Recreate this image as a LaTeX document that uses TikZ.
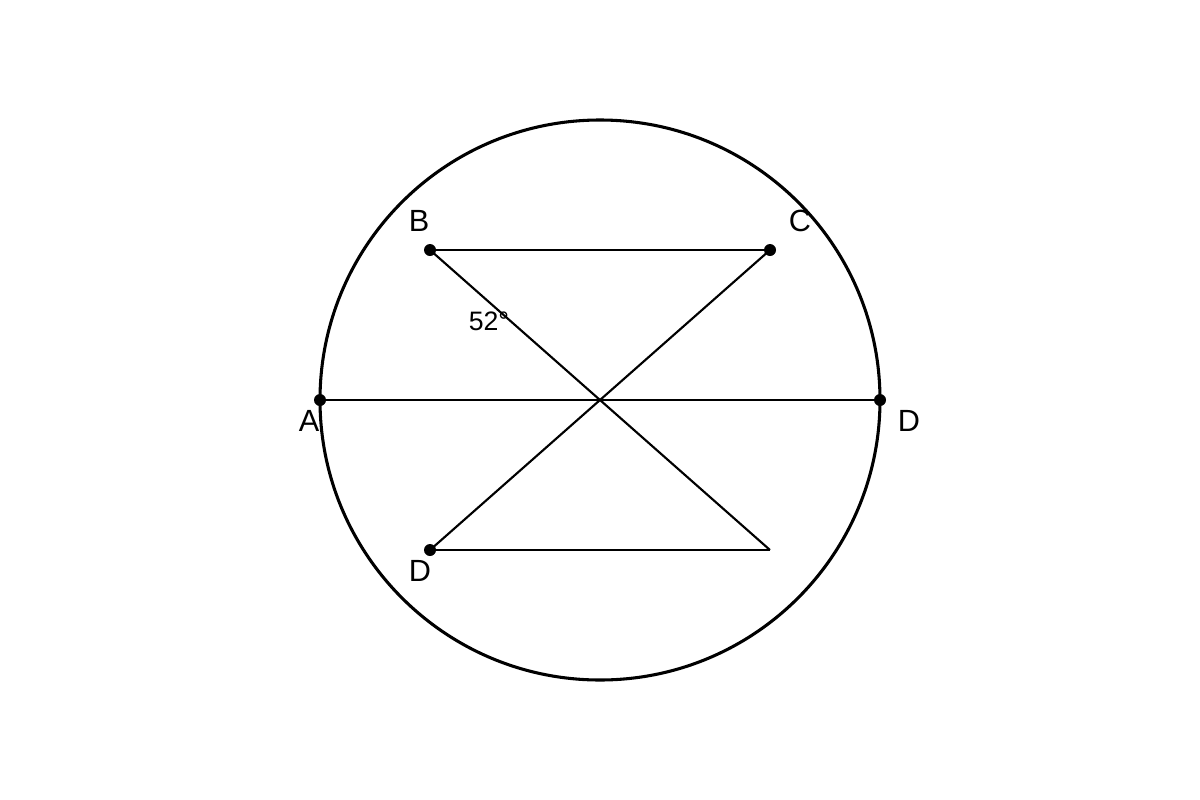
\documentclass[tikz,border=0pt]{standalone}
\usepackage{fontspec}
\setmainfont{Liberation Sans}
\begin{document}
\begin{tikzpicture}[x=0.75pt,y=-0.75pt,
  dot/.style={circle,fill=black,inner sep=0pt,minimum size=9pt},
  lbl/.style={inner sep=0pt,font=\fontsize{23}{26}\selectfont},
  anglbl/.style={inner sep=0pt,font=\fontsize{20}{24}\selectfont},
  chord/.style={line width=1.6pt}]
\useasboundingbox (0,0) rectangle (1200,800);
\node (O) at (600,400) {};
\draw[line width=2.3pt] (600,400) circle[radius=280];
\coordinate (A) at (320,400);
\coordinate (D1) at (880,400);
\coordinate (B) at (430,250);
\coordinate (C) at (770,250);
\coordinate (D2) at (430,550);
\coordinate (E) at (770,550);
\draw[chord] (A) -- (D1);
\draw[chord] (B) -- (C);
\draw[chord] (B) -- (E);
\draw[chord] (C) -- (D2);
\draw[chord] (D2) -- (E);
\foreach \p in {A,D1,B,C,D2} \node[dot] at (\p) {};
\node[lbl] (lB) at (419,221) {B};
\node[lbl] (lC) at (800,221) {C};
\node[lbl] (lA) at (309,421) {A};
\node[lbl] (lD1) at (909,421) {D};
\node[lbl] (lD2) at (420,571) {D};
\node[anglbl] (lang) at (489,321) {52°};
\end{tikzpicture}
\end{document}
